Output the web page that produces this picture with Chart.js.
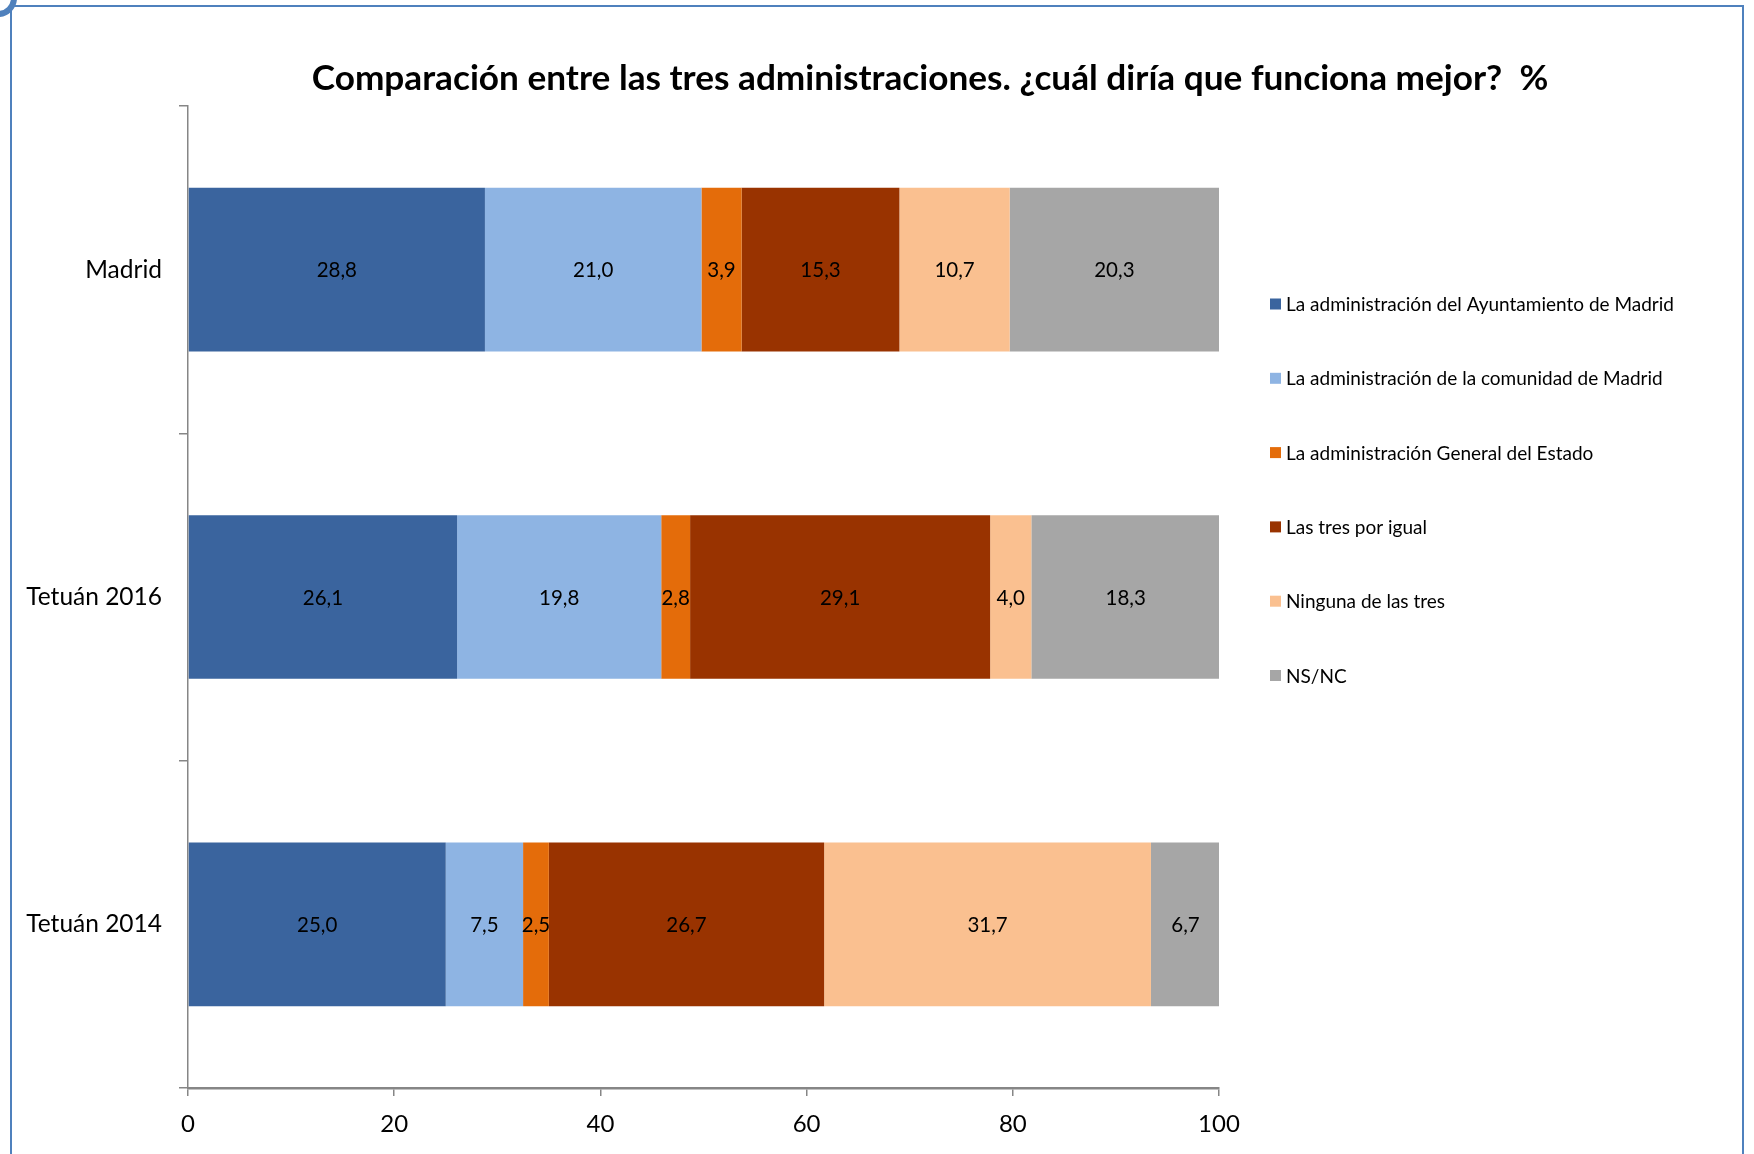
<!DOCTYPE html>
<html>
<head>
<meta charset="utf-8">
<script src="https://cdn.jsdelivr.net/npm/chart.js@4/dist/chart.umd.min.js"></script>
<style>
  html, body { margin: 0; padding: 0; background: #fff; }
  #wrap { width: 1754px; height: 1154px; }
</style>
</head>
<body>
<div id="wrap"><canvas id="chart" width="1754" height="1154"></canvas></div>
<script>
// --- data ---
const categories = ['Madrid', 'Tetuán 2016', 'Tetuán 2014'];
const seriesNames = [
  'La administración del Ayuntamiento de Madrid',
  'La administración de la comunidad de Madrid',
  'La administración General del Estado',
  'Las tres por igual',
  'Ninguna de las tres',
  'NS/NC'
];
const ayuntamiento = [28.8, 26.1, 25.0];
const comunidad    = [21.0, 19.8, 7.5];
const estado       = [3.9, 2.8, 2.5];
const lasTres      = [15.3, 29.1, 26.7];
const ninguna      = [10.7, 4.0, 31.7];
const nsnc         = [20.3, 18.3, 6.7];
const xTicks = [0, 20, 40, 60, 80, 100];
const titleText = 'Comparación entre las tres administraciones. ¿cuál diría que funciona mejor?  %';

const colors = ['#3A649E', '#8EB4E3', '#E46C0A', '#993300', '#FAC090', '#A6A6A6'];
const FONT = 'Lato, "Open Sans", sans-serif';

const seriesValues = [ayuntamiento, comunidad, estado, lasTres, ninguna, nsnc];

// frame + title + legend + value labels, drawn by hand
const decor = {
  id: 'decor',
  beforeDraw(chart) {
    const c = chart.ctx;
    c.save();
    c.fillStyle = '#fff';
    c.fillRect(0, 0, chart.width, chart.height);
    c.strokeStyle = '#4F81BD';
    c.lineWidth = 2;
    c.beginPath();
    c.moveTo(11, 1154); c.lineTo(11, 6); c.lineTo(1743, 6); c.lineTo(1743, 1154);
    c.stroke();
    // little handle in the top left corner
    c.lineWidth = 6;
    c.beginPath();
    c.arc(-2, -2, 16, 0, Math.PI / 2);
    c.stroke();
    c.restore();
  },
  afterDatasetsDraw(chart) {
    const c = chart.ctx;
    c.save();
    c.font = '20.5px ' + FONT;
    c.fillStyle = '#000';
    c.textAlign = 'center';
    c.textBaseline = 'middle';
    chart.data.datasets.forEach((ds, i) => {
      chart.getDatasetMeta(i).data.forEach((bar, j) => {
        const p = bar.getProps(['x', 'y', 'base'], true);
        c.fillText(ds.data[j].toFixed(1).replace('.', ','), (p.x + p.base) / 2, p.y + 1);
      });
    });
    c.restore();
  },
  afterDraw(chart) {
    const c = chart.ctx;
    c.save();
    c.fillStyle = '#000';
    c.textBaseline = 'middle';
    c.textAlign = 'center';
    c.font = 'bold 35.2px ' + FONT;
    c.fillText(titleText, 930, 79);
    // legend
    c.textAlign = 'left';
    c.font = '19px ' + FONT;
    chart.data.datasets.forEach((ds, i) => {
      const y = 304 + i * 74.3;
      c.fillStyle = ds.backgroundColor;
      c.fillRect(1270, y - 5.5, 11, 11);
      c.fillStyle = '#000';
      c.fillText(ds.label, 1286, y + 1);
    });
    c.restore();
  }
};

new Chart(document.getElementById('chart'), {
  type: 'bar',
  data: {
    labels: categories,
    datasets: seriesNames.map((name, i) => ({
      label: name,
      data: seriesValues[i],
      backgroundColor: colors[i],
      borderWidth: 0,
      barPercentage: 0.5,
      categoryPercentage: 1.0
    }))
  },
  options: {
    indexAxis: 'y',
    responsive: false,
    animation: false,
    layout: { padding: { top: 106, right: 535, bottom: 0, left: 0 } },
    plugins: {
      legend: { display: false },
      title: { display: false },
      tooltip: { enabled: false }
    },
    scales: {
      x: {
        stacked: true,
        min: 0,
        max: 100,
        afterBuildTicks(scale) { scale.ticks = xTicks.map(v => ({ value: v })); },
        afterFit(scale) { scale.height = 66; },
        grid: { drawOnChartArea: false, drawTicks: true, tickLength: 8, color: '#868686', lineWidth: 1.5 },
        border: { display: true, color: '#868686', width: 2.5 },
        ticks: { color: '#000', padding: 14, font: { family: FONT, size: 24 } }
      },
      y: {
        stacked: true,
        afterFit(scale) { scale.width = 188; },
        grid: { offset: true, drawOnChartArea: false, drawTicks: true, tickLength: 9, color: '#868686', lineWidth: 1.5 },
        border: { display: true, color: '#868686', width: 1.5 },
        ticks: { color: '#000', padding: 17, font: { family: FONT, size: 24.5 } }
      }
    }
  },
  plugins: [decor]
});
</script>
</body>
</html>
